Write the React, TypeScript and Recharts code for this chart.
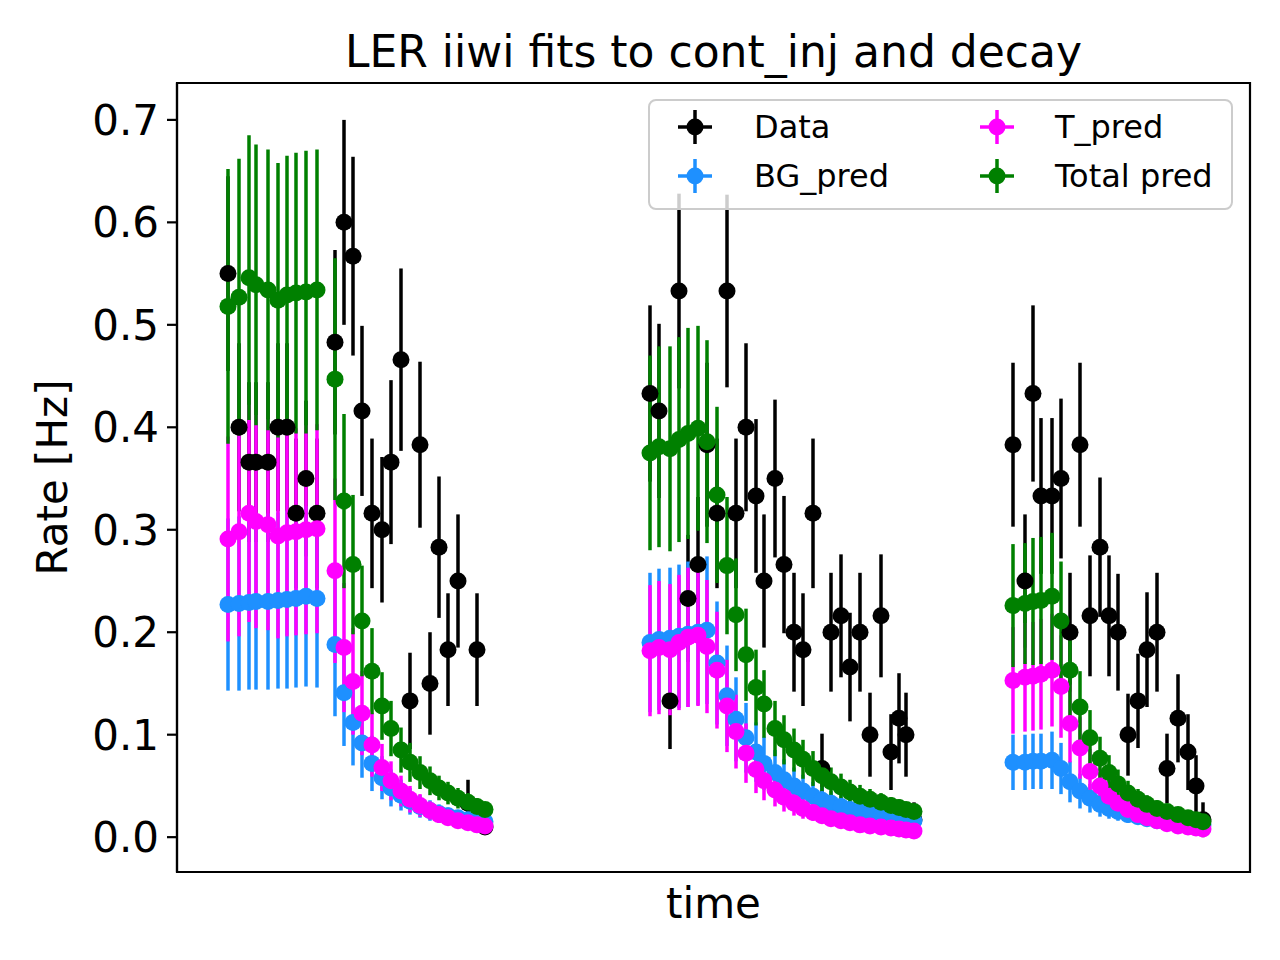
import { ScatterChart, Scatter, XAxis, YAxis, ErrorBar, ReferenceArea } from "recharts";

const FONT = "'DejaVu Sans', sans-serif";

// Time of each bin (arbitrary units), three fills: continuous injection then decay.
const time = [
  // fill 1
  5.1, 6.2, 7.2, 7.9, 9.1, 10.1, 11.0, 11.9, 12.9, 14.0, 15.8, 16.7, 17.6, 18.5, 19.5, 20.5, 21.4, 22.4, 23.3,
  24.3, 25.3, 26.2, 27.1, 28.1, 29.1, 30.0, 30.8,
  // fill 2
  47.3, 48.2, 49.3, 50.2, 51.1, 52.1, 53.0, 54.0, 55.0, 55.9, 56.9, 57.9, 58.7, 59.8, 60.7, 61.7, 62.6, 63.6,
  64.5, 65.4, 66.4, 67.3, 68.3, 69.3, 70.4, 71.4, 72.2, 72.9, 73.7,
  // fill 3
  83.6, 84.8, 85.6, 86.4, 87.5, 88.4, 89.3, 90.3, 91.3, 92.3, 93.2, 94.1, 95.1, 96.1, 97.0, 98.0, 99.0, 100.1,
  101.1, 101.9, 102.6,
];

const rate = [
  0.55, 0.4, 0.366, 0.366, 0.366, 0.4, 0.4, 0.316, 0.35, 0.316, 0.483, 0.6, 0.567, 0.416, 0.316, 0.3, 0.366, 0.466,
  0.133, 0.383, 0.15, 0.283, 0.183, 0.25, 0.033, 0.183, 0.01,
  0.433, 0.416, 0.133, 0.533, 0.233, 0.266, 0.383, 0.316, 0.533, 0.316, 0.4, 0.333, 0.25, 0.35, 0.266, 0.2, 0.183,
  0.316, 0.067, 0.2, 0.216, 0.166, 0.2, 0.1, 0.216, 0.083, 0.116, 0.1, 0.017,
  0.383, 0.25, 0.433, 0.333, 0.333, 0.35, 0.2, 0.383, 0.216, 0.283, 0.216, 0.2, 0.1, 0.133, 0.183, 0.2, 0.067, 0.116,
  0.083, 0.05, 0.017,
];
const rateErr = [
  0.095, 0.082, 0.078, 0.078, 0.078, 0.082, 0.082, 0.073, 0.076, 0.073, 0.09, 0.1, 0.097, 0.083, 0.073, 0.071, 0.08,
  0.089, 0.047, 0.081, 0.05, 0.069, 0.055, 0.065, 0.023, 0.055, 0,
  0.086, 0.085, 0.047, 0.095, 0.062, 0.066, 0.08, 0.073, 0.094, 0.073, 0.082, 0.075, 0.065, 0.077, 0.067, 0.058,
  0.055, 0.073, 0.034, 0.058, 0.06, 0.053, 0.058, 0.041, 0.06, 0.037, 0.044, 0.041, 0.017,
  0.08, 0.065, 0.086, 0.076, 0.076, 0.078, 0.058, 0.08, 0.059, 0.068, 0.059, 0.057, 0.04, 0.046, 0.056, 0.058, 0.034,
  0.043, 0.037, 0.03, 0.017,
];

const bgPred = [
  0.227, 0.228, 0.229, 0.23, 0.23, 0.231, 0.232, 0.233, 0.235, 0.233, 0.188, 0.141, 0.112, 0.092, 0.072, 0.058, 0.048,
  0.041, 0.035, 0.03, 0.026, 0.023, 0.021, 0.019, 0.017, 0.016, 0.015,
  0.19, 0.193, 0.194, 0.196, 0.198, 0.2, 0.202, 0.17, 0.138, 0.115, 0.097, 0.083, 0.072, 0.063, 0.056, 0.05, 0.045,
  0.04, 0.036, 0.033, 0.03, 0.027, 0.025, 0.023, 0.021, 0.019, 0.018, 0.017, 0.016,
  0.073, 0.073, 0.074, 0.074, 0.075, 0.067, 0.054, 0.045, 0.038, 0.032, 0.028, 0.025, 0.022, 0.02, 0.018, 0.016,
  0.015, 0.014, 0.013, 0.012, 0.012,
];
const bgErr = [
  0.084, 0.085, 0.085, 0.086, 0.086, 0.086, 0.087, 0.087, 0.088, 0.087, 0.07, 0.052, 0.042, 0.034, 0.027, 0.021, 0.018,
  0.015, 0.013, 0.011, 0.01, 0.009, 0.008, 0.007, 0.006, 0.006, 0.006,
  0.068, 0.069, 0.069, 0.07, 0.071, 0.071, 0.072, 0.06, 0.049, 0.041, 0.034, 0.029, 0.026, 0.022, 0.02, 0.018, 0.016,
  0.014, 0.013, 0.012, 0.011, 0.01, 0.009, 0.008, 0.007, 0.007, 0.006, 0.006, 0.006,
  0.027, 0.027, 0.027, 0.027, 0.028, 0.025, 0.02, 0.017, 0.014, 0.012, 0.01, 0.009, 0.008, 0.007, 0.007, 0.006, 0.006,
  0.005, 0.005, 0.004, 0.004,
];

const tPred = [
  0.291, 0.298, 0.316, 0.308, 0.305, 0.294, 0.297, 0.298, 0.3, 0.301, 0.26, 0.185, 0.152, 0.121, 0.09, 0.068, 0.055,
  0.045, 0.037, 0.031, 0.026, 0.022, 0.019, 0.016, 0.014, 0.012, 0.011,
  0.182, 0.185, 0.183, 0.19, 0.195, 0.197, 0.186, 0.163, 0.128, 0.103, 0.082, 0.066, 0.055, 0.046, 0.039, 0.033,
  0.028, 0.024, 0.021, 0.018, 0.016, 0.014, 0.012, 0.011, 0.01, 0.009, 0.008, 0.007, 0.006,
  0.153, 0.156, 0.157, 0.159, 0.163, 0.147, 0.111, 0.087, 0.064, 0.05, 0.04, 0.033, 0.027, 0.022, 0.019, 0.016, 0.013,
  0.011, 0.01, 0.009, 0.008,
];
const tErr = [
  0.1, 0.102, 0.106, 0.104, 0.103, 0.1, 0.101, 0.101, 0.102, 0.102, 0.09, 0.063, 0.052, 0.041, 0.031, 0.023, 0.019,
  0.015, 0.013, 0.011, 0.009, 0.008, 0.007, 0.006, 0.005, 0.004, 0.004,
  0.064, 0.065, 0.064, 0.066, 0.068, 0.069, 0.065, 0.057, 0.045, 0.036, 0.029, 0.023, 0.019, 0.016, 0.014, 0.012, 0.01,
  0.008, 0.007, 0.006, 0.006, 0.005, 0.004, 0.004, 0.004, 0.003, 0.003, 0.002, 0.002,
  0.052, 0.053, 0.053, 0.054, 0.055, 0.05, 0.038, 0.03, 0.022, 0.017, 0.014, 0.011, 0.009, 0.008, 0.007, 0.006, 0.005,
  0.004, 0.004, 0.003, 0.003,
];

const totalPred = [
  0.518, 0.527, 0.546, 0.539, 0.534, 0.524, 0.529, 0.531, 0.532, 0.534, 0.447, 0.328, 0.266, 0.211, 0.162, 0.128,
  0.106, 0.085, 0.073, 0.063, 0.055, 0.048, 0.043, 0.038, 0.034, 0.03, 0.027,
  0.375, 0.381, 0.379, 0.388, 0.394, 0.399, 0.386, 0.334, 0.265, 0.217, 0.178, 0.146, 0.13, 0.106, 0.095, 0.085,
  0.076, 0.067, 0.06, 0.054, 0.049, 0.044, 0.04, 0.037, 0.034, 0.031, 0.029, 0.027, 0.025,
  0.226, 0.228, 0.23, 0.231, 0.235, 0.211, 0.163, 0.127, 0.097, 0.077, 0.063, 0.052, 0.043, 0.037, 0.032, 0.028,
  0.025, 0.022, 0.019, 0.017, 0.015,
];
const totalErr = [
  0.134, 0.135, 0.139, 0.137, 0.137, 0.134, 0.136, 0.137, 0.138, 0.137, 0.118, 0.085, 0.068, 0.054, 0.042, 0.033,
  0.027, 0.022, 0.019, 0.016, 0.014, 0.012, 0.011, 0.01, 0.009, 0.008, 0.007,
  0.095, 0.098, 0.1, 0.1, 0.103, 0.1, 0.099, 0.086, 0.067, 0.055, 0.045, 0.037, 0.033, 0.027, 0.024, 0.021, 0.019,
  0.017, 0.015, 0.014, 0.013, 0.012, 0.011, 0.01, 0.009, 0.008, 0.008, 0.007, 0.007,
  0.06, 0.059, 0.062, 0.062, 0.062, 0.058, 0.045, 0.035, 0.027, 0.021, 0.017, 0.014, 0.012, 0.01, 0.009, 0.008, 0.007,
  0.006, 0.005, 0.005, 0.004,
];

const yTicks = [0, 0.1, 0.2, 0.3, 0.4, 0.5, 0.6, 0.7];
const X_DOMAIN: [number, number] = [0, 107.3];
const Y_DOMAIN: [number, number] = [-0.034, 0.736];

const SERIES = [
  { name: "Data", color: "#000000", values: rate, errors: rateErr },
  { name: "BG_pred", color: "#1e90ff", values: bgPred, errors: bgErr },
  { name: "T_pred", color: "#ff00ff", values: tPred, errors: tErr },
  { name: "Total pred", color: "#008000", values: totalPred, errors: totalErr },
];

const toPoints = (values: number[], errors: number[]) =>
  time.map((t, i) => ({ t, v: values[i], e: errors[i] }));

function ErrorbarIcon({ color }: { color: string }) {
  return (
    <svg width={36} height={36} viewBox="0 0 36 36" style={{ display: "block" }}>
      <line x1={1} x2={35} y1={18} y2={18} stroke={color} strokeWidth={3.5} />
      <line x1={18} x2={18} y1={1} y2={35} stroke={color} strokeWidth={3.5} />
      <circle cx={18} cy={18} r={8.5} fill={color} />
    </svg>
  );
}

// matplotlib fills the 2-column legend column by column
function LegendBox() {
  const cols = [
    { icon: 47, text: 108 },
    { icon: 349, text: 409 },
  ];
  const rows = [28, 77];
  return (
    <div
      style={{
        position: "absolute",
        left: 648,
        top: 99,
        width: 585,
        height: 111,
        boxSizing: "border-box",
        border: "2px solid #cccccc",
        borderRadius: 8,
        background: "rgba(255,255,255,0.8)",
      }}
    >
      {SERIES.map((s, i) => {
        const col = cols[Math.floor(i / 2)];
        const row = rows[i % 2] - 2;
        return (
          <div key={s.name}>
            <div style={{ position: "absolute", left: col.icon - 20, top: row - 18 }}>
              <ErrorbarIcon color={s.color} />
            </div>
            <div
              style={{
                position: "absolute",
                left: col.text - 4,
                top: row - 20,
                height: 40,
                lineHeight: "40px",
                fontSize: 32,
                color: "#000",
                whiteSpace: "nowrap",
              }}
            >
              {s.name}
            </div>
          </div>
        );
      })}
    </div>
  );
}

export default function App() {
  return (
    <div
      style={{
        position: "absolute",
        left: 0,
        top: 0,
        width: 1280,
        height: 960,
        background: "#fff",
        fontFamily: FONT,
      }}
    >
      <ScatterChart width={1280} height={960} margin={{ top: 83, right: 30, bottom: 0, left: 0 }}>
        <XAxis
          type="number"
          dataKey="t"
          domain={X_DOMAIN}
          allowDataOverflow
          height={88}
          tick={false}
          tickLine={false}
          axisLine={{ stroke: "#000", strokeWidth: 2.2 }}
          label={{
            content: (p: any) => {
              const vb = p.viewBox;
              return (
                <text
                  x={vb.x + vb.width / 2}
                  y={vb.y + 46}
                  textAnchor="middle"
                  fontSize={42}
                  fontFamily={FONT}
                  fill="#000"
                >
                  time
                </text>
              );
            },
          }}
        />
        <YAxis
          type="number"
          dataKey="v"
          domain={Y_DOMAIN}
          allowDataOverflow
          ticks={yTicks}
          interval={0}
          tickFormatter={(v: number) => v.toFixed(1)}
          width={177}
          tickSize={10}
          tickMargin={8}
          tick={{ fill: "#000", fontSize: 42, fontFamily: FONT }}
          tickLine={{ stroke: "#000", strokeWidth: 2.2 }}
          axisLine={{ stroke: "#000", strokeWidth: 2.2 }}
          label={{
            content: (p: any) => {
              const vb = p.viewBox;
              return (
                <text
                  transform={`translate(${vb.x + 52}, ${vb.y + vb.height / 2}) rotate(-90)`}
                  textAnchor="middle"
                  dy="0.36em"
                  fontSize={42}
                  fontFamily={FONT}
                  fill="#000"
                >
                  Rate [Hz]
                </text>
              );
            },
          }}
        />
        <ReferenceArea
          x1={X_DOMAIN[0]}
          x2={X_DOMAIN[1]}
          y1={Y_DOMAIN[0]}
          y2={Y_DOMAIN[1]}
          fill="none"
          stroke="#000"
          strokeWidth={2.2}
          ifOverflow="visible"
        />
        {/* all error bars first, in series order */}
        {SERIES.map((s) => (
          <Scatter
            key={`${s.name}-err`}
            name={`${s.name}-err`}
            data={toPoints(s.values, s.errors)}
            shape={() => <g />}
            isAnimationActive={false}
          >
            <ErrorBar
              dataKey="e"
              direction="y"
              width={0}
              stroke={s.color}
              strokeWidth={3.5}
              isAnimationActive={false}
            />
          </Scatter>
        ))}
        {/* then the markers on top */}
        {SERIES.map((s) => (
          <Scatter
            key={s.name}
            name={s.name}
            data={toPoints(s.values, s.errors)}
            fill={s.color}
            shape={(p: any) => <circle cx={p.cx} cy={p.cy} r={8.5} fill={s.color} />}
            isAnimationActive={false}
          />
        ))}
      </ScatterChart>

      <div
        style={{
          position: "absolute",
          left: 177,
          width: 1073,
          top: 30,
          textAlign: "center",
          fontSize: 44,
          lineHeight: "44px",
          color: "#000",
          whiteSpace: "nowrap",
        }}
      >
        LER iiwi fits to cont_inj and decay
      </div>

      <LegendBox />
    </div>
  );
}
